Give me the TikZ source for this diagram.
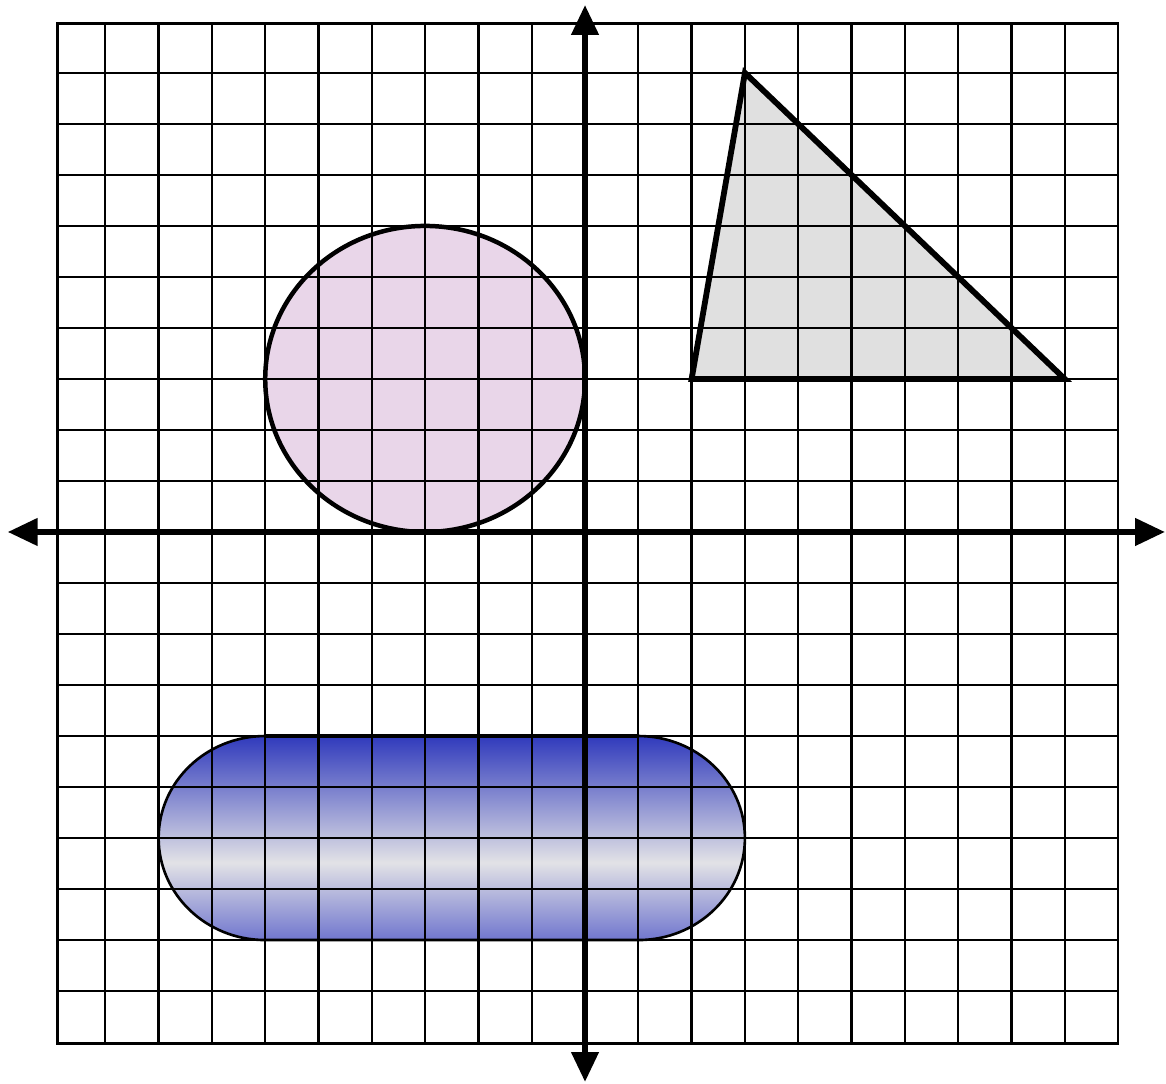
\documentclass[tikz,border=0pt]{standalone}
\usetikzlibrary{arrows.meta}
\definecolor{circfill}{RGB}{233,214,233}
\definecolor{trifill}{RGB}{224,224,224}
\definecolor{captop}{RGB}{48,58,188}
\definecolor{capmid}{RGB}{226,226,230}
\definecolor{capbot}{RGB}{112,118,206}
\pgfdeclareverticalshading{capshade}{100bp}{color(0bp)=(capbot); color(25bp)=(capbot); color(44bp)=(capmid); color(58bp)=(capmid!55!captop); color(75bp)=(captop); color(100bp)=(captop)}
\tikzset{
  gridline/.style={line width=1.25pt},
  axisline/.style={line width=2.9pt, {Triangle[length=0.56cm,width=0.5cm]}-{Triangle[length=0.56cm,width=0.5cm]}},
  circline/.style={line width=2.4pt},
  triline/.style={line width=3.1pt},
  capline/.style={line width=1.4pt},
  captopline/.style={line width=2.6pt}
}
\begin{document}
\begin{tikzpicture}[x=1cm,y=0.957cm]
\useasboundingbox (-10.976cm,-10.338cm) rectangle (10.9cm,9.981cm);
% fills
\fill[circfill] (-3,3) ellipse [x radius=3cm, y radius=2.871cm];
\fill[trifill] (3,9) -- (2,3) -- (9,3) -- cycle;
\path[shading=capshade] (-6,-4) -- (1,-4) arc[start angle=90,end angle=-90,x radius=2cm,y radius=1.914cm] -- (-6,-8) arc[start angle=270,end angle=90,x radius=2cm,y radius=1.914cm] -- cycle;
% grid
\foreach \i in {-9,...,9} \draw[gridline] (\i,-10.03) -- (\i,9.97);
\foreach \j in {-9,...,9} \draw[gridline] (-9.9,\j) -- (10,\j);
\draw[gridline] (-9.9,-10.03) rectangle (10,9.97);
% outlines
\draw[circline] (-3,3) ellipse [x radius=3cm, y radius=2.871cm];
\draw[triline] (3,9) -- (2,3) -- (9,3) -- cycle;
\draw[capline] (-6,-4) -- (1,-4) arc[start angle=90,end angle=-90,x radius=2cm,y radius=1.914cm] -- (-6,-8) arc[start angle=270,end angle=90,x radius=2cm,y radius=1.914cm] -- cycle;
\draw[captopline] (-6,-4) -- (1,-4);
% axes
\coordinate (xl) at (-10.83,0);
\coordinate (xr) at (10.88,0);
\coordinate (yt) at (0,10.33);
\coordinate (yb) at (0,-10.78);
\draw[axisline] (xl) -- (xr);
\draw[axisline] (yb) -- (yt);
\end{tikzpicture}
\end{document}
